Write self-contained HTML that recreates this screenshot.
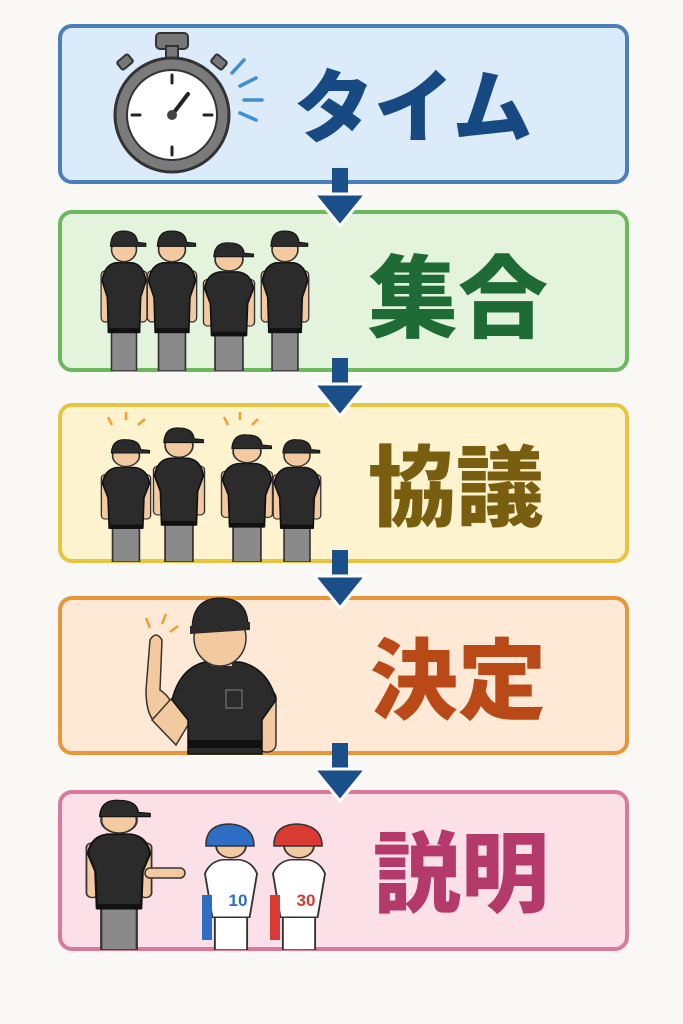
<!DOCTYPE html>
<html><head><meta charset="utf-8"><style>
body{margin:0;background:#faf8f5;}
.wrap{position:relative;width:683px;height:1024px;overflow:hidden;background:#faf8f5;font-family:"Liberation Sans","Noto Sans CJK JP",sans-serif;}
.box{position:absolute;left:58px;width:563px;border:4px solid;border-radius:14px;}
.t{position:absolute;font-weight:900;font-family:"Noto Sans CJK JP","Liberation Sans",sans-serif;white-space:nowrap;line-height:1;}
svg{position:absolute;left:0;top:0;}
</style></head><body><div class="wrap">
<div class="box" style="top:24px;height:152px;background:#dcebf9;border-color:#4a7fbd"></div>
<div class="box" style="top:210px;height:154px;background:#e4f3dc;border-color:#6cb85c"></div>
<div class="box" style="top:403px;height:152px;background:#fdf3cf;border-color:#e8c540"></div>
<div class="box" style="top:596px;height:151px;background:#fde9d6;border-color:#e8963a"></div>
<div class="box" style="top:790px;height:153px;background:#fbe0e8;border-color:#d9799c"></div>

<div class="t" style="left:294px;top:62px;font-size:80px;color:#174a82">タイム</div>
<div class="t" style="left:368px;top:246px;font-size:90px;color:#1e6b35">集合</div>
<div class="t" style="left:368px;top:438px;font-size:88px;color:#7a5e10">協議</div>
<div class="t" style="left:370px;top:631px;font-size:88px;color:#b94a18">決定</div>
<div class="t" style="left:373px;top:824px;font-size:88px;color:#b33a6a">説明</div>

<svg width="683" height="1024" viewBox="0 0 683 1024">
<defs>
<symbol id="ump" viewBox="0 0 50 140" preserveAspectRatio="none">
 <rect x="13" y="100" width="24" height="40" fill="#8a8a8a" stroke="#333" stroke-width="1.5"/>
 <rect x="3" y="42" width="8" height="50" rx="4" fill="#f3c9a0" stroke="#333" stroke-width="1.2"/>
 <rect x="39" y="42" width="8" height="50" rx="4" fill="#f3c9a0" stroke="#333" stroke-width="1.2"/>
 <path d="M4 52 Q6 36 17 34 L33 34 Q44 36 46 52 L41 68 L40 102 L10 102 L9 68 Z" fill="#2b2b2b" stroke="#111" stroke-width="1.5"/>
 <rect x="10" y="98" width="30" height="5" fill="#111"/>
 <circle cx="25" cy="21" r="12" fill="#f3c9a0" stroke="#333" stroke-width="1.5"/>
 <path d="M12 17 Q13 2 25 3 Q37 3 38 14 L46 15 L46 18 L12 18 Z" fill="#2b2b2b" stroke="#111" stroke-width="1"/>
</symbol>
<symbol id="ply" viewBox="0 0 50 125" preserveAspectRatio="none">
 <rect x="12" y="90" width="26" height="35" fill="#fff" stroke="#333" stroke-width="1.5"/>
 <path d="M4 48 Q8 36 18 34 L32 34 Q42 36 46 48 L40 92 L10 92 Z" fill="#fff" stroke="#333" stroke-width="1.5"/>
 <circle cx="25" cy="20" r="12" fill="#f3c9a0" stroke="#333" stroke-width="1.5"/>
</symbol>
<g id="ar"><rect x="332" y="0" width="16" height="28" fill="#1b4f8a"/><path d="M314 26 L366 26 L340 58 Z" fill="#1b4f8a" stroke="#fff" stroke-width="3"/></g>
</defs>
<use href="#ar" y="168"/><use href="#ar" y="358"/><use href="#ar" y="550"/><use href="#ar" y="743"/>
<!-- stopwatch -->
<rect x="156" y="33" width="32" height="16" rx="4" fill="#777" stroke="#333" stroke-width="2"/>
<rect x="166" y="46" width="12" height="12" fill="#777" stroke="#333" stroke-width="2"/>
<rect x="118" y="57" width="14" height="10" rx="2" fill="#777" stroke="#333" stroke-width="2" transform="rotate(-40 125 62)"/>
<rect x="212" y="57" width="14" height="10" rx="2" fill="#777" stroke="#333" stroke-width="2" transform="rotate(40 219 62)"/>
<circle cx="172" cy="115" r="57" fill="#7b7b7b" stroke="#333" stroke-width="3"/>
<circle cx="172" cy="115" r="45" fill="#fff" stroke="#333" stroke-width="2"/>
<g stroke="#222" stroke-width="3" stroke-linecap="round">
<line x1="172" y1="75" x2="172" y2="83"/><line x1="172" y1="147" x2="172" y2="155"/><line x1="132" y1="115" x2="140" y2="115"/><line x1="204" y1="115" x2="212" y2="115"/>
<line x1="172" y1="115" x2="188" y2="94" stroke-width="4"/></g>
<circle cx="172" cy="115" r="5" fill="#444"/>
<g stroke="#3c8fd0" stroke-width="3.5" stroke-linecap="round">
<line x1="232" y1="73" x2="244" y2="60"/><line x1="240" y1="86" x2="256" y2="78"/><line x1="244" y1="100" x2="262" y2="100"/><line x1="240" y1="113" x2="256" y2="120"/></g>
<!-- box2 -->
<use href="#ump" x="98" y="228" width="52" height="143"/>
<use href="#ump" x="144" y="228" width="56" height="143"/>
<use href="#ump" x="200" y="240" width="58" height="131"/>
<use href="#ump" x="258" y="228" width="54" height="143"/>
<!-- box3 -->
<use href="#ump" x="98" y="437" width="56" height="125"/>
<use href="#ump" x="150" y="425" width="58" height="137"/>
<use href="#ump" x="218" y="432" width="58" height="130"/>
<use href="#ump" x="270" y="437" width="54" height="125"/>
<g stroke="#f0a030" stroke-width="2.5"><line x1="112" y1="425" x2="108" y2="417"/><line x1="126" y1="420" x2="126" y2="412"/><line x1="138" y1="425" x2="145" y2="419"/><line x1="228" y1="425" x2="224" y2="417"/><line x1="240" y1="420" x2="240" y2="412"/><line x1="252" y1="425" x2="258" y2="419"/></g>
<!-- box4 custom -->
<path d="M150 680 Q148 720 172 700 L180 690" fill="none" stroke="#333" stroke-width="2"/>
<path d="M146 690 L150 640 Q156 630 162 640 L160 690 Q175 700 172 715 L160 725 Q146 720 146 690 Z" fill="#f3c9a0" stroke="#333" stroke-width="1.5"/>
<path d="M152 720 L170 700 L190 685 L200 705 L176 745 Z" fill="#f3c9a0" stroke="#333" stroke-width="1.5"/>
<rect x="258" y="690" width="18" height="62" rx="8" fill="#f3c9a0" stroke="#333" stroke-width="1.5"/>
<path d="M172 700 Q180 668 205 662 L240 662 Q268 668 276 700 L262 720 L262 754 L188 754 L188 720 Z" fill="#2b2b2b" stroke="#111" stroke-width="1.5"/>
<rect x="188" y="740" width="74" height="8" fill="#111"/>
<rect x="226" y="690" width="16" height="18" fill="none" stroke="#666" stroke-width="1.5"/>
<rect x="212" y="650" width="20" height="16" fill="#f3c9a0"/>
<ellipse cx="220" cy="638" rx="26" ry="28" fill="#f3c9a0" stroke="#333" stroke-width="1.5"/>
<path d="M192 630 Q192 598 220 598 Q248 598 248 626 L192 630 Z" fill="#2b2b2b" stroke="#111"/>
<path d="M190 626 L250 622 L250 630 L190 634 Z" fill="#2b2b2b"/>
<g stroke="#f0a030" stroke-width="2.5"><line x1="150" y1="628" x2="146" y2="618"/><line x1="162" y1="624" x2="166" y2="614"/><line x1="170" y1="632" x2="178" y2="626"/></g>
<!-- box5 -->
<use href="#ump" x="82" y="797" width="74" height="153"/>
<rect x="145" y="868" width="40" height="10" rx="5" fill="#f3c9a0" stroke="#333" stroke-width="1.5"/>
<use href="#ply" x="200" y="826" width="62" height="124"/>
<use href="#ply" x="268" y="826" width="62" height="124"/>
<path d="M206 842 Q208 824 230 824 Q254 826 254 846 L206 846 Z" fill="#2d6ec4" stroke="#333" stroke-width="1.5"/>
<path d="M274 842 Q276 824 298 824 Q322 826 322 846 L274 846 Z" fill="#d93a33" stroke="#333" stroke-width="1.5"/>
<rect x="202" y="895" width="10" height="45" fill="#2d6ec4"/><rect x="270" y="895" width="10" height="45" fill="#d93a33"/>
<text x="238" y="906" font-family="Liberation Sans" font-weight="bold" font-size="17" fill="#2d6ec4" text-anchor="middle">10</text>
<text x="306" y="906" font-family="Liberation Sans" font-weight="bold" font-size="17" fill="#d93a33" text-anchor="middle">30</text>
</svg>
</div></body></html>
